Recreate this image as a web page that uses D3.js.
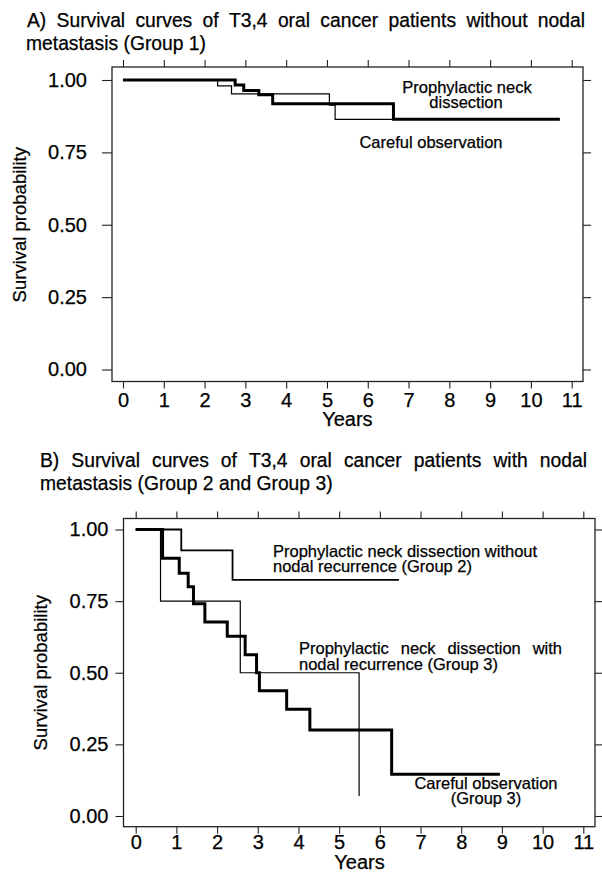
<!DOCTYPE html>
<html><head><meta charset="utf-8">
<script src="https://cdn.jsdelivr.net/npm/d3@7"></script>
<style>
body{margin:0;background:#fff}
text{font-family:"Liberation Sans",Arial,Helvetica,sans-serif;fill:#000;stroke:#000;stroke-width:0.25px}
</style>
</head><body>
<svg id="c" width="602" height="875"></svg>
<script>
// ---------- data ----------
const yearTicks = [0,1,2,3,4,5,6,7,8,9,10,11];
const survTicks = [0,0.25,0.5,0.75,1];
const survTickLabels = ["0.00","0.25","0.50","0.75","1.00"];

// Panel A (Group 1)
const aCarefulTime = [0,2.75,2.96,3.33,3.67,6.63,10.71];
const aCarefulSurv = [1,0.983,0.964,0.949,0.918,0.864,0.864];
const aProphTime   = [0,2.32,2.66,5.06,5.20,6.70];
const aProphSurv   = [1,0.980,0.952,0.913,0.864,0.864];

// Panel B (Group 2 and Group 3)
const bCarefulTime = [0,0.66,1.07,1.29,1.42,1.70,2.25,2.69,2.97,3.04,3.71,4.28,6.29,8.95];
const bCarefulSurv = [1,0.900,0.847,0.800,0.741,0.677,0.627,0.563,0.500,0.437,0.373,0.300,0.146,0.146];
const bG2Time = [0,1.12,2.38,6.47];
const bG2Surv = [1,0.927,0.824,0.824];
const bG3Time = [0,0.61,2.57,5.49];
const bG3Surv = [1,0.750,0.500,0.070];

const titleA = ["A) Survival curves of T3,4 oral cancer patients without nodal","metastasis (Group 1)"];
const titleB = ["B) Survival curves of T3,4 oral cancer patients with nodal","metastasis (Group 2 and Group 3)"];
const xLabel = "Years";
const yLabel = "Survival probability";

// ---------- drawing ----------
const svg = d3.select("#c");

function justified(g, line, x0, x1, y, size){
  const words = line.split(" ");
  const ts = words.map(w => g.append("text").attr("y", y).style("font-size", size+"px").text(w));
  const widths = ts.map(t => t.node().getComputedTextLength());
  const gap = (x1 - x0 - d3.sum(widths)) / (words.length - 1);
  let x = x0;
  ts.forEach((t,i) => { t.attr("x", x); x += widths[i] + gap; });
}

function panel(cfg, curves){
  const g = svg.append("g");
  const x = d3.scaleLinear().domain([0,11]).range(cfg.xr);
  const y = d3.scaleLinear().domain([0,1]).range(cfg.yr);
  const b = cfg.box;
  const fs = "20px";
  const gb = g.append("g").attr("transform",`translate(0,${b.b})`)
    .call(d3.axisBottom(x).tickValues(yearTicks).tickFormat(d3.format("d")).tickSize(7).tickSizeOuter(0).tickPadding(cfg.bp));
  const gt = g.append("g").attr("transform",`translate(0,${b.t})`)
    .call(d3.axisTop(x).tickValues(yearTicks).tickFormat("").tickSize(7).tickSizeOuter(0));
  const gl = g.append("g").attr("transform",`translate(${b.l},0)`)
    .call(d3.axisLeft(y).tickValues(survTicks).tickFormat((d,i)=>survTickLabels[i]).tickSize(cfg.lt).tickSizeOuter(0).tickPadding(cfg.lp));
  const gr = g.append("g").attr("transform",`translate(${b.r},0)`)
    .call(d3.axisRight(y).tickValues(survTicks).tickFormat("").tickSize(8).tickSizeOuter(0));
  [gb,gt,gl,gr].forEach(a => {
    a.select(".domain").remove();
    a.selectAll("line").attr("stroke","#222").attr("stroke-width",1.1);
    a.selectAll("text").style("font-size",fs).attr("fill","#000")
      .style("font-family",'"Liberation Sans",Arial,sans-serif');
  });
  g.append("rect").attr("x",b.l).attr("y",b.t).attr("width",b.r-b.l).attr("height",b.b-b.t)
    .attr("fill","none").attr("stroke","#222").attr("stroke-width",1.3);
  g.append("text").attr("x",(cfg.xr[0]+cfg.xr[1])/2).attr("y",cfg.xlabY).attr("text-anchor","middle")
    .style("font-size","20px").text(xLabel);
  g.append("text").attr("transform",`translate(${cfg.ylabX},${(cfg.yr[0]+cfg.yr[1])/2}) rotate(-90)`)
    .attr("text-anchor","middle").style("font-size","18.5px").text(yLabel);
  const line = d3.line().x(d=>x(d[0])).y(d=>y(d[1])).curve(d3.curveStepAfter);
  curves.forEach(c => {
    const pts = c.t.map((t,i)=>[t,c.s[i]]);
    g.append("path").attr("d",line(pts)).attr("fill","none").attr("stroke","#000")
      .attr("stroke-width",c.w).attr("stroke-linejoin","miter").attr("stroke-linecap","butt");
  });
  return g;
}

panel({box:{l:112,r:583,t:67,b:381.5}, xr:[123,571.7], yr:[369.5,80], lt:10, lp:15, bp:4, xlabY:426, ylabX:26},
  [{t:aProphTime,s:aProphSurv,w:1.2},{t:aCarefulTime,s:aCarefulSurv,w:3}]);
panel({box:{l:123.5,r:595,t:518.5,b:826.7}, xr:[135.7,583.3], yr:[816,529.5], lt:8, lp:7, bp:1, xlabY:869, ylabX:47},
  [{t:bG3Time,s:bG3Surv,w:1.2},{t:bG2Time,s:bG2Surv,w:1.8},{t:bCarefulTime,s:bCarefulSurv,w:3}]);

const tg = svg.append("g");
const ts = 19.3;
justified(tg, titleA[0], 27, 585, 27, ts);
tg.append("text").attr("x",26).attr("y",50).style("font-size",ts+"px").text(titleA[1]);
justified(tg, titleB[0], 40, 587, 467, ts);
tg.append("text").attr("x",40).attr("y",490).style("font-size",ts+"px").text(titleB[1]);

const ls = 16.5;
function lab(txt, x, y, anchor){ tg.append("text").attr("x",x).attr("y",y).attr("text-anchor",anchor||"start").style("font-size",ls+"px").text(txt); }
lab("Prophylactic neck", 467, 93, "middle");
lab("dissection", 466, 108, "middle");
lab("Careful observation", 431, 148, "middle");
lab("Prophylactic neck dissection without", 273, 556.5);
lab("nodal recurrence (Group 2)", 273, 572);
justified(tg, "Prophylactic neck dissection with", 299, 562, 653.5, ls);
lab("nodal recurrence (Group 3)", 299, 669.5);
lab("Careful observation", 486, 789, "middle");
lab("(Group 3)", 486, 804, "middle");
</script>
</body></html>
